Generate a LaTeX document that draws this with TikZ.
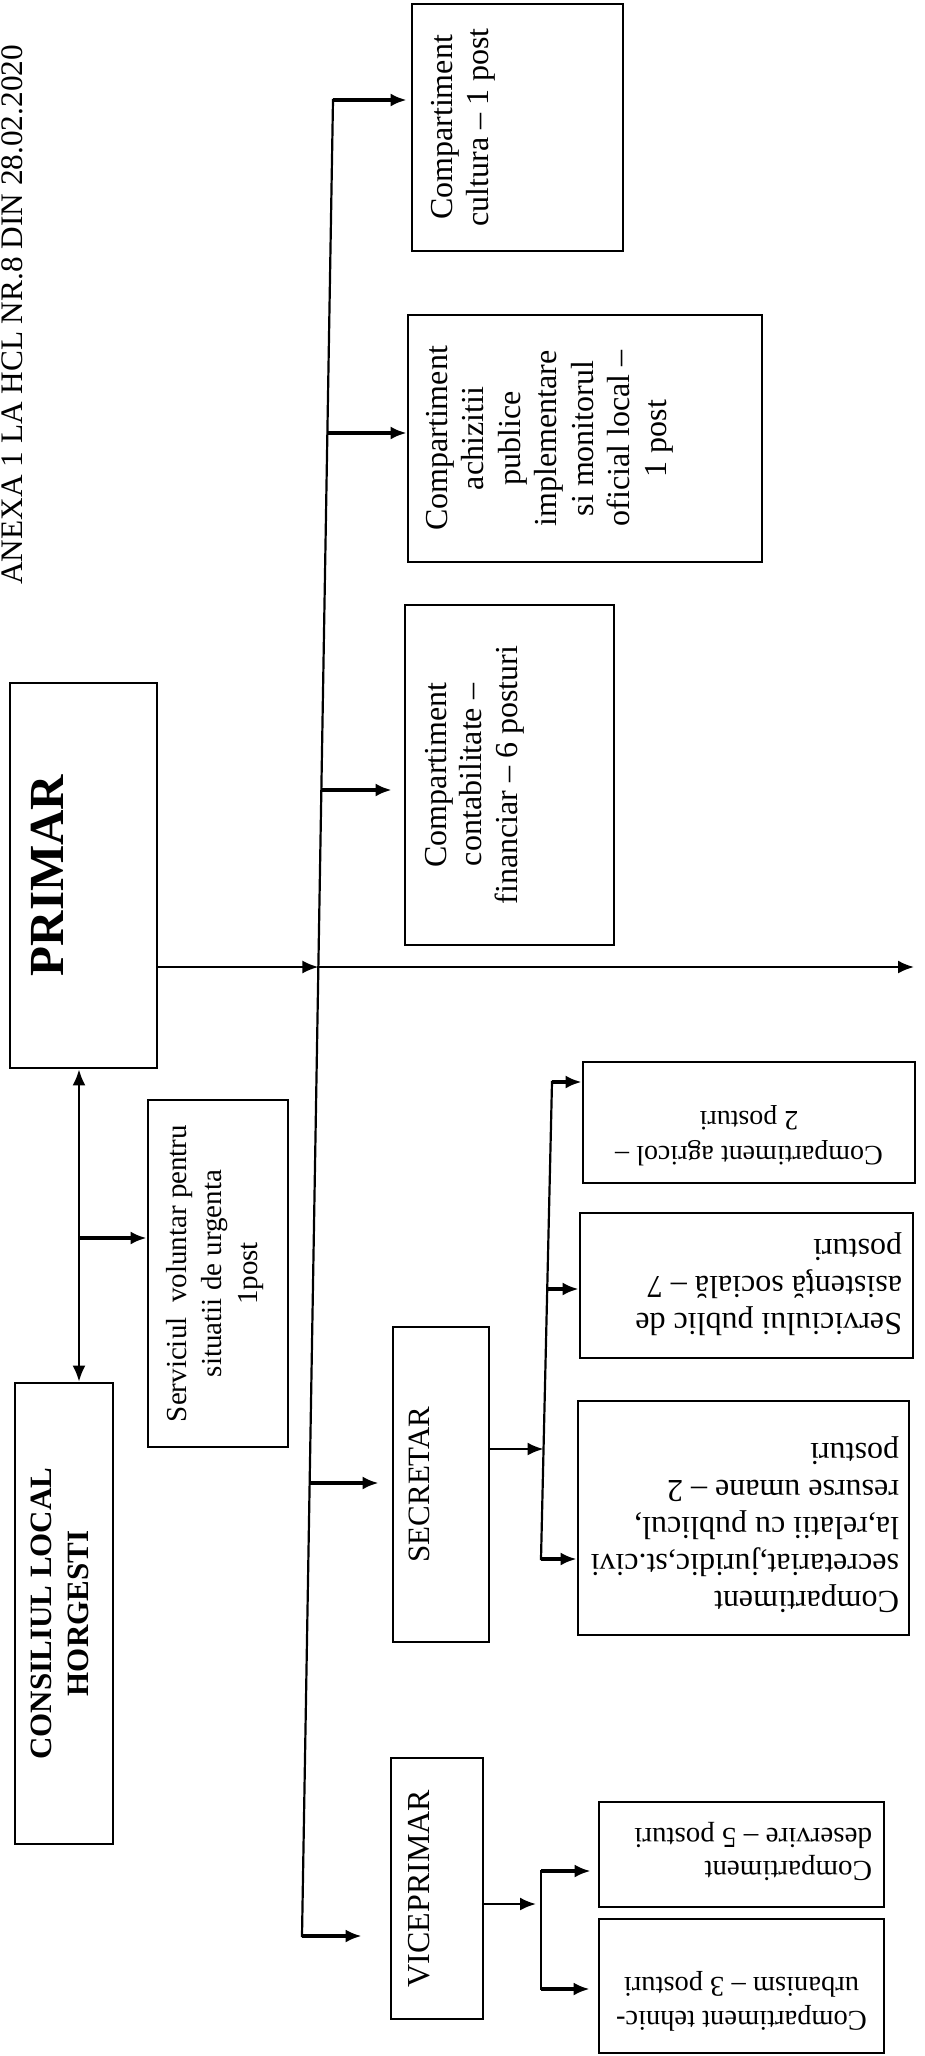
\documentclass[tikz,border=0pt]{standalone}
\usepackage{fontspec}
\setmainfont{Liberation Serif}
\usetikzlibrary{arrows.meta,calc}
\newcommand{\bt}[5]{\parbox[c][#2pt][t]{#1pt}{\vspace*{#3pt}#4#5\par}}
\newcommand{\fA}{\fontsize{32}{36.5}\selectfont}
\begin{document}
\begin{tikzpicture}[x=1pt,y=-1pt,
  bx/.style={draw, line width=2.8pt, inner sep=0pt, rotate=90},
  bxr/.style={draw, line width=2.8pt, inner sep=0pt, rotate=180},
  arw/.style={-{Latex[length=16pt,width=13pt]}},
  ln/.style={line width=2.2pt, line cap=rect},
  thk/.style={line width=3.4pt},
]
\useasboundingbox (0,0) rectangle (925,2056);
\fill[white] (0,0) rectangle (925,2056);

% title
\node[rotate=90, anchor=base west, inner sep=0pt, font=\fontsize{31.3}{36}\selectfont] (title) at (23,585) {ANEXA 1 LA HCL NR.8 DIN 28.02.2020};

% boxes rotated 90
\node[bx] (cultura) at (517.5,127.5) {\bt{247}{211}{19}{\centering\fA}{Compartiment\\cultura – 1 post}};
\node[bx] (achiz) at (585,438.5) {\bt{247}{354}{18}{\centering\fA}{Compartiment\\achizitii\\publice\\implementare\\si monitorul\\oficial local –\\1 post}};
\node[bx] (contab) at (509.5,775) {\bt{340}{209}{20}{\centering\fontsize{32}{35.5}\selectfont}{Compartiment\\contabilitate –\\financiar – 6 posturi}};
\node[bx] (primar) at (83.5,875.5) {\bt{385}{147}{21}{\centering\fontsize{49}{55}\selectfont\bfseries}{PRIMAR}};
\node[bx] (serv) at (218,1273.5) {\bt{347}{140}{18}{\centering\fontsize{29}{35.5}\selectfont}{Serviciul\ \ voluntar pentru\\situatii de urgenta\\1post}};
\node[bx] (consiliu) at (64,1613.5) {\bt{461}{98}{16}{\centering\fontsize{31}{37}\selectfont\bfseries}{CONSILIUL LOCAL\\HORGESTI}};
\node[bx] (secretar) at (441,1484.5) {\bt{315}{96}{16}{\centering\fontsize{31}{36}\selectfont}{SECRETAR}};
\node[bx] (vice) at (437,1888.5) {\bt{261}{92}{17}{\centering\fA}{VICEPRIMAR}};

% boxes rotated 180
\node[bxr] (agricol) at (749,1122.5) {\bt{332}{121}{17}{\centering\fontsize{28}{35}\selectfont}{Compartiment agricol –\\2 posturi}};
\node[bxr] (asist) at (746.5,1285.5) {\bt{333}{145}{22}{\raggedright\leftskip=11pt\fontsize{32}{37}\selectfont}{Serviciului public de\\asistenţă socială – 7\\posturi}};
\node[bxr] (secretariat) at (743.5,1518) {\bt{331}{234}{22}{\raggedright\leftskip=10pt\fontsize{32}{37}\selectfont}{Compartiment\\secretariat,juridic,st.civi\\la,relatii cu publicul,\\resurse umane – 2\\posturi}};
\node[bxr] (deservire) at (741.5,1854.5) {\bt{285}{105}{26}{\raggedright\leftskip=12pt\fontsize{29}{33}\selectfont}{Compartiment\\deservire – 5 posturi}};
\node[bxr] (tehnic) at (741.5,1986) {\bt{285}{134}{22}{\centering\fontsize{28.5}{34}\selectfont}{Compartiment tehnic-\\urbanism – 3 posturi}};

% main trunk
\coordinate (t1) at (333,100);
\coordinate (t2) at (327.4,433);
\coordinate (t3) at (321.3,790);
\coordinate (t4) at (318.4,967);
\coordinate (t5) at (309.6,1483);
\coordinate (t6) at (302,1936);
\coordinate (pend) at (914,967);
\draw[ln] (t1) -- (t6);
\draw[thk,arw,shorten >=4pt] (t1) -- (t1 -| cultura.north);
\draw[thk,arw] (t2) -- (t2 -| achiz.north);
\draw[thk,arw,shorten >=12pt] (t3) -- (t3 -| contab.north);
\draw[ln,arw] (primar.south |- t4) -- (t4);
\draw[ln,arw] (t4) -- (pend);
\draw[thk,arw,shorten >=13pt] (t5) -- (t5 -| secretar.north);
\draw[thk,arw,shorten >=28pt] (t6) -- (t6 -| vice.north);

% primar - consiliu
\coordinate (d1) at (79,1238);
\draw[ln,{Latex[length=16pt,width=13pt]}-{Latex[length=16pt,width=13pt]}] (primar.west -| d1) -- (consiliu.east -| d1);
\draw[thk,arw] (d1) -- (d1 -| serv.north);

% secretar subtree
\coordinate (s1) at (552,1082);
\coordinate (s2) at (547.2,1289);
\coordinate (s3) at (543.5,1449);
\coordinate (s4) at (541,1559);
\draw[ln] (s1) -- (s4);
\draw[ln,arw] (secretar.south |- s3) -- (s3);
\draw[thk,arw] (s1) -- (s1 -| agricol.east);
\draw[thk,arw] (s2) -- (s2 -| asist.east);
\draw[thk,arw] (s4) -- (s4 -| secretariat.east);

% viceprimar subtree
\coordinate (v1) at (541,1871);
\coordinate (v2) at (541,1904);
\coordinate (v3) at (541,1989);
\draw[ln] (v1) -- (v3);
\draw[ln,arw,shorten >=5pt] (vice.south |- v2) -- (v2);
\draw[thk,arw,shorten >=7pt] (v1) -- (v1 -| deservire.east);
\draw[thk,arw,shorten >=8pt] (v3) -- (v3 -| tehnic.east);
\end{tikzpicture}
\end{document}
